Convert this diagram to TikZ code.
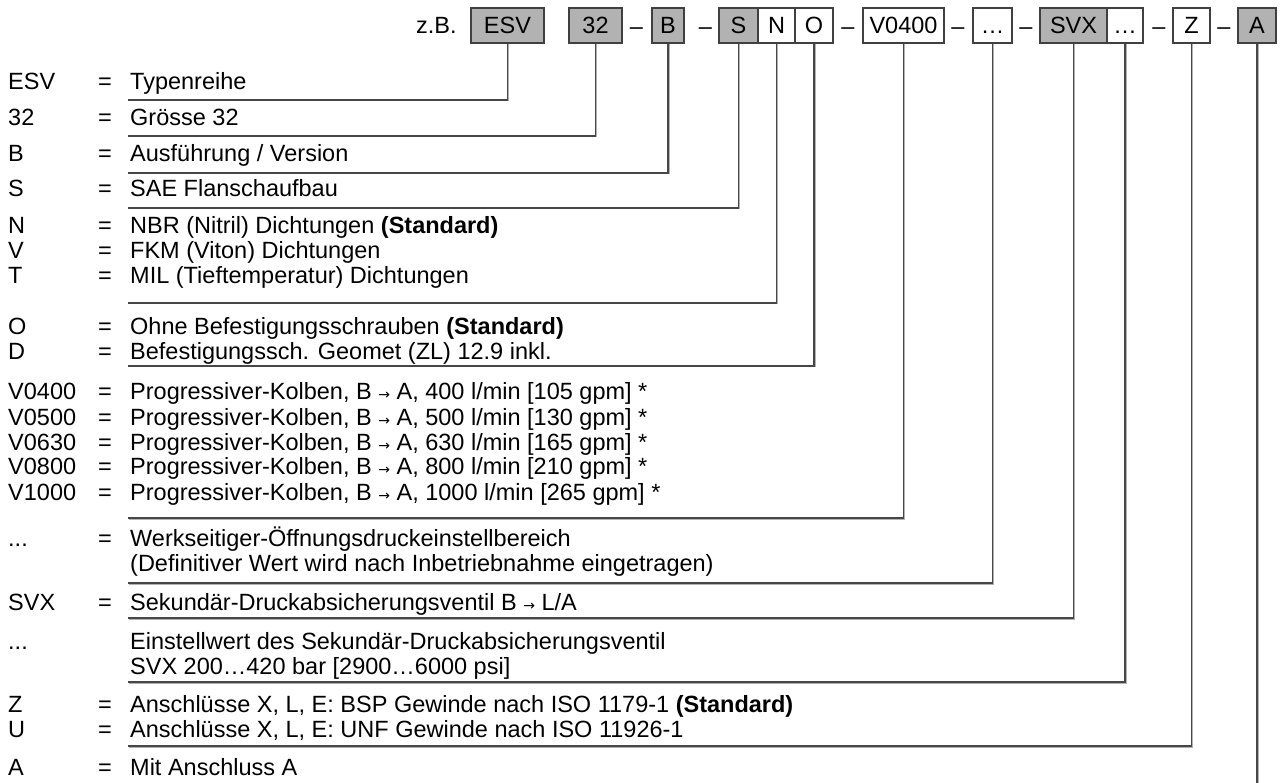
\documentclass[tikz,border=0pt]{standalone}
\usepackage{fontspec}
\setmainfont{Liberation Sans}
\newfontfamily\arrfont{DejaVu Sans}
\newcommand{\myarr}{{\arrfont\fontsize{14}{14}\selectfont →}}
\begin{document}
\begin{tikzpicture}[x=1pt,y=-1pt,
  conn/.style={draw=black!72, line width=1.2pt,
    preaction={draw=black!30, line width=1.2pt, transform canvas={shift={(0.9pt,-0.9pt)}}}},
  gbox/.style={draw=black!75, line width=1.1pt, fill=black!30, minimum height=35pt,
    inner sep=0pt, anchor=center, text height=16.8pt, text depth=0pt},
  wbox/.style={gbox, fill=white},
  lbl/.style={anchor=base west, inner sep=0pt},
  dsh/.style={anchor=base, inner sep=0pt}
]
\useasboundingbox (0,0) rectangle (1280,783);
\fontsize{23.5}{27}\selectfont
% ---- top code row
\node[lbl] (zb) at (416,34) {z.B.};
\node[gbox, minimum width=73pt] (bESV) at (507.5,25.5) {ESV};
\node[gbox, minimum width=53pt] (b32) at (595.5,25.5) {32};
\node[dsh] (d1) at (636.5,35) {–};
\node[gbox, minimum width=32pt] (bB) at (668,25.5) {B};
\node[dsh] (d2) at (705.5,35) {–};
\node[gbox, minimum width=39pt] (bS) at (738.5,25.5) {S};
\node[wbox, minimum width=37pt] (bN) at (776.5,25.5) {N};
\node[wbox, minimum width=38pt] (bO) at (814,25.5) {O};
\node[dsh] (d3) at (848,35) {–};
\node[wbox, minimum width=81pt] (bV) at (903.5,25.5) {V0400};
\node[dsh] (d4) at (958,35) {–};
\node[wbox, minimum width=39pt] (bDa) at (992.5,25.5) {…};
\node[dsh] (d5) at (1026,35) {–};
\node[gbox, minimum width=67pt] (bSVX) at (1073.5,25.5) {SVX};
\node[wbox, minimum width=36pt] (bDb) at (1125,25.5) {…};
\node[dsh] (d6) at (1159,35) {–};
\node[wbox, minimum width=37pt] (bZ) at (1191.5,25.5) {Z};
\node[dsh] (d7) at (1224,35) {–};
\node[gbox, minimum width=38pt] (bA) at (1257,25.5) {A};
% ---- legend rows
\node[lbl] at (8,90) {ESV}; \node[lbl] at (98,90) {=}; \node[lbl] (tESV) at (130,90) {Typenreihe};
\node[lbl] at (8,126) {32}; \node[lbl] at (98,126) {=}; \node[lbl] (t32) at (130,126) {Grösse 32};
\node[lbl] at (8,162) {B}; \node[lbl] at (98,162) {=}; \node[lbl] (tB) at (130,162) {Ausführung / Version};
\node[lbl] at (8,197) {S}; \node[lbl] at (98,197) {=}; \node[lbl] (tS) at (130,197) {SAE Flanschaufbau};
\node[lbl] at (8,234) {N}; \node[lbl] at (98,234) {=}; \node[lbl] (tN) at (130,234) {NBR (Nitril) Dichtungen \textbf{(Standard)}};
\node[lbl] at (8,259) {V}; \node[lbl] at (98,259) {=}; \node[lbl] (tV) at (130,259) {FKM (Viton) Dichtungen};
\node[lbl] at (8,284) {T}; \node[lbl] at (98,284) {=}; \node[lbl] (tT) at (130,284) {MIL (Tieftemperatur) Dichtungen};
\node[lbl] at (8,335) {O}; \node[lbl] at (98,335) {=}; \node[lbl] (tO) at (130,335) {Ohne Befestigungsschrauben \textbf{(Standard)}};
\node[lbl] at (8,360) {D}; \node[lbl] at (98,360) {=}; \node[lbl] (tD) at (130,360) {Befestigungssch. Geomet (ZL) 12.9 inkl.};
\node[lbl] at (8,400) {V0400}; \node[lbl] at (98,400) {=}; \node[lbl] (tV1) at (130,400) {Progressiver-Kolben, B \myarr{} A, 400 l/min [105 gpm] *};
\node[lbl] at (8,425) {V0500}; \node[lbl] at (98,425) {=}; \node[lbl] (tV2) at (130,425) {Progressiver-Kolben, B \myarr{} A, 500 l/min [130 gpm] *};
\node[lbl] at (8,450) {V0630}; \node[lbl] at (98,450) {=}; \node[lbl] (tV3) at (130,450) {Progressiver-Kolben, B \myarr{} A, 630 l/min [165 gpm] *};
\node[lbl] at (8,475) {V0800}; \node[lbl] at (98,475) {=}; \node[lbl] (tV4) at (130,475) {Progressiver-Kolben, B \myarr{} A, 800 l/min [210 gpm] *};
\node[lbl] at (8,500) {V1000}; \node[lbl] at (98,500) {=}; \node[lbl] (tV5) at (130,500) {Progressiver-Kolben, B \myarr{} A, 1000 l/min [265 gpm] *};
\node[lbl] at (8,546) {...}; \node[lbl] at (98,546) {=}; \node[lbl] (tW1) at (130,546) {Werkseitiger-Öffnungsdruckeinstellbereich};
\node[lbl] (tW2) at (130,571) {(Definitiver Wert wird nach Inbetriebnahme eingetragen)};
\node[lbl] at (8,610) {SVX}; \node[lbl] at (98,610) {=}; \node[lbl] (tSVX) at (130,610) {Sekundär-Druckabsicherungsventil B \myarr{} L/A};
\node[lbl] at (8,649) {...}; \node[lbl] (tE1) at (130,649) {Einstellwert des Sekundär-Druckabsicherungsventil};
\node[lbl] (tE2) at (130,674) {SVX 200…420 bar [2900…6000 psi]};
\node[lbl] at (8,712) {Z}; \node[lbl] at (98,712) {=}; \node[lbl] (tZ) at (130,712) {Anschlüsse X, L, E: BSP Gewinde nach ISO 1179-1 \textbf{(Standard)}};
\node[lbl] at (8,737) {U}; \node[lbl] at (98,737) {=}; \node[lbl] (tU) at (130,737) {Anschlüsse X, L, E: UNF Gewinde nach ISO 11926-1};
\node[lbl] at (8,775) {A}; \node[lbl] at (98,775) {=}; \node[lbl] (tA) at (130,775) {Mit Anschluss A};
% ---- connector end points
\coordinate (cESV) at (128,100);
\coordinate (c32) at (128,136);
\coordinate (cB) at (128,173);
\coordinate (cS) at (128,208);
\coordinate (cN) at (128,303);
\coordinate (cO) at (128,366);
\coordinate (cV) at (128,518);
\coordinate (cDa) at (128,583);
\coordinate (cSVX) at (128,618);
\coordinate (cDb) at (128,682);
\coordinate (cZ) at (128,746);
\coordinate (cA) at (1257,783);
% ---- connectors
\draw[conn] (bESV.south) |- (cESV);
\draw[conn] (b32.south) |- (c32);
\draw[conn] (bB.south) |- (cB);
\draw[conn] (bS.south) |- (cS);
\draw[conn] (bN.south) |- (cN);
\draw[conn] (bO.south) |- (cO);
\draw[conn] (bV.south) |- (cV);
\draw[conn] (bDa.south) |- (cDa);
\draw[conn] (bSVX.south) |- (cSVX);
\draw[conn] (bDb.south) |- (cDb);
\draw[conn] (bZ.south) |- (cZ);
\draw[conn] (bA.south) -- (bA.south |- cA);
\end{tikzpicture}
\end{document}
